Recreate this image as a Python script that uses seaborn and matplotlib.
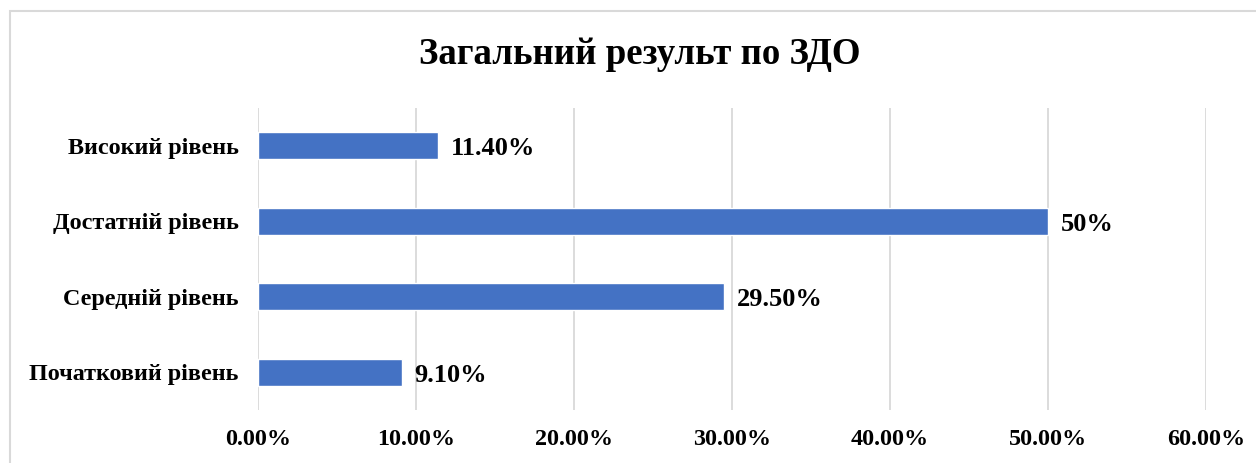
import matplotlib
matplotlib.use("Agg")
import matplotlib.pyplot as plt
from matplotlib.patches import Rectangle
from matplotlib.ticker import FuncFormatter
import pandas as pd
import seaborn as sns

levels = ["Високий рівень", "Достатній рівень", "Середній рівень", "Початковий рівень"]
shares = [11.4, 50.0, 29.5, 9.1]
value_labels = ["11.40%", "50%", "29.50%", "9.10%"]
x_ticks = [0, 10, 20, 30, 40, 50, 60]

df = pd.DataFrame({"level": levels, "share": shares})

sns.set_style("white")
plt.rcParams["font.family"] = ["Liberation Serif", "DejaVu Serif"]
plt.rcParams["font.weight"] = "bold"
plt.rcParams["text.color"] = "black"
plt.rcParams["xtick.color"] = "black"
plt.rcParams["ytick.color"] = "black"

fig = plt.figure(figsize=(12.56, 4.63), dpi=100)
ax = fig.add_axes([258 / 1256, 1 - 410 / 463, 948 / 1256, 302 / 463])

sns.barplot(data=df, x="share", y="level", orient="h", color="#4472C4",
            width=0.36, saturation=1, ax=ax)

ax.set_xlim(0, 60)
ax.set_xticks(x_ticks)
ax.xaxis.set_major_formatter(FuncFormatter(lambda v, p: f"{v:.2f}%"))
ax.grid(axis="x", color="#D9D9D9", linewidth=1.3)
ax.set_axisbelow(True)
for s in ax.spines.values():
    s.set_visible(False)
ax.tick_params(axis="both", length=0, labelsize=17.4, labelcolor="black")
ax.tick_params(axis="x", pad=14)
ax.tick_params(axis="y", pad=14)
for lab in ax.get_xticklabels() + ax.get_yticklabels():
    lab.set_fontweight("bold")
ax.set_xlabel("")
ax.set_ylabel("")

# value labels next to the bars
for i, (v, t) in enumerate(zip(shares, value_labels)):
    ax.annotate(t, (v, i), xytext=(9, -2), textcoords="offset points",
                va="center", ha="left", fontsize=19, fontweight="bold", color="black")

fig.text(640 / 1256, 1 - 54 / 463, "Загальний результ по ЗДО", ha="center", va="center",
         fontsize=26.6, fontweight="bold", color="black")

# light frame of the chart area
fig.patches.append(Rectangle((10 / 1256, -0.1), 1.2, 1 - 11 / 463 + 0.1, transform=fig.transFigure,
                             fill=False, edgecolor="#D9D9D9", linewidth=1.5))

fig.savefig("out.png", dpi=100)
